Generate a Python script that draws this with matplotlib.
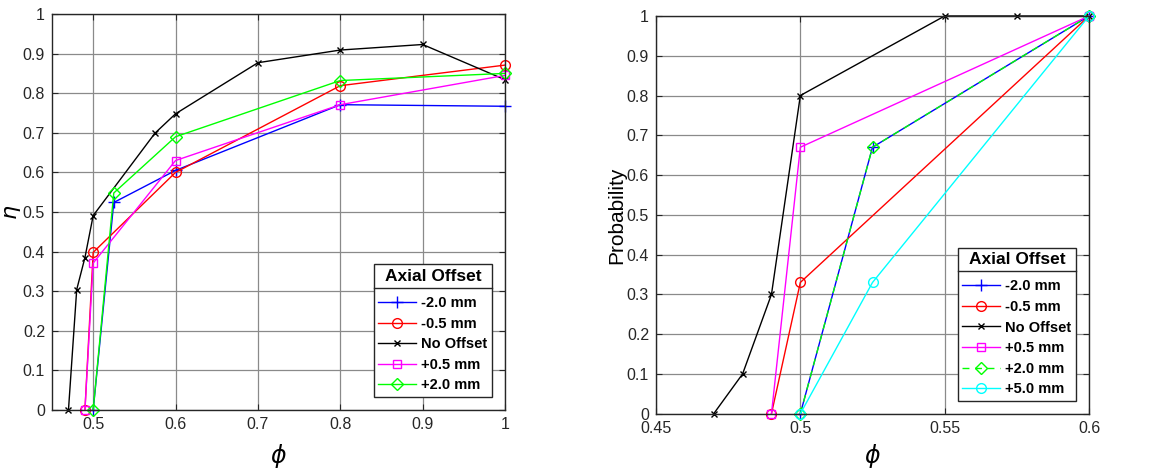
import matplotlib
matplotlib.use("Agg")
import matplotlib.pyplot as plt
from matplotlib.lines import Line2D

plt.rcParams['font.family'] = ['Liberation Sans', 'DejaVu Sans']

# left panel: efficiency eta vs phi
eta_labels = ['-2.0 mm', '-0.5 mm', 'No Offset', '+0.5 mm', '+2.0 mm']
eta_x = [
    [0.5, 0.525, 0.6, 0.8, 1.0],
    [0.49, 0.5, 0.6, 0.8, 1.0],
    [0.47, 0.48, 0.49, 0.5, 0.575, 0.6, 0.7, 0.8, 0.9, 1.0],
    [0.49, 0.5, 0.6, 0.8, 1.0],
    [0.5, 0.525, 0.6, 0.8, 1.0],
]
eta_y = [
    [0.0, 0.524, 0.605, 0.771, 0.767],
    [0.0, 0.398, 0.600, 0.819, 0.871],
    [0.0, 0.304, 0.385, 0.491, 0.699, 0.748, 0.877, 0.909, 0.923, 0.834],
    [0.0, 0.371, 0.630, 0.771, 0.845],
    [0.0, 0.548, 0.690, 0.832, 0.850],
]

# right panel: probability vs phi
prob_labels = ['-2.0 mm', '-0.5 mm', 'No Offset', '+0.5 mm', '+2.0 mm', '+5.0 mm']
prob_x = [
    [0.5, 0.525, 0.6],
    [0.49, 0.5, 0.6],
    [0.47, 0.48, 0.49, 0.5, 0.55, 0.575, 0.6],
    [0.49, 0.5, 0.6],
    [0.5, 0.525, 0.6],
    [0.5, 0.525, 0.6],
]
prob_y = [
    [0.0, 0.67, 1.0],
    [0.0, 0.33, 1.0],
    [0.0, 0.1, 0.3, 0.8, 1.0, 1.0, 1.0],
    [0.0, 0.67, 1.0],
    [0.0, 0.67, 1.0],
    [0.0, 0.33, 1.0],
]

styles = {
    '-2.0 mm': dict(color='#0000ff', marker='+', ls='-', ms=8),
    '-0.5 mm': dict(color='#ff0000', marker='o', ls='-', ms=7, mfc='none'),
    'No Offset': dict(color='#000000', marker='x', ls='-', ms=5),
    '+0.5 mm': dict(color='#ff00ff', marker='s', ls='-', ms=6, mfc='none'),
    '+2.0 mm': dict(color='#00ff00', marker='D', ls='-', ms=6, mfc='none'),
    '+5.0 mm': dict(color='#00ffff', marker='o', ls='-', ms=7, mfc='none'),
}

fig = plt.figure(figsize=(11.71, 4.70), dpi=100)
ax1 = fig.add_axes([0.0444, 0.1277, 0.3869, 0.8425])
ax2 = fig.add_axes([0.5602, 0.1198, 0.3698, 0.8462])

for lab, xs, ys in zip(eta_labels, eta_x, eta_y):
    ax1.plot(xs, ys, lw=1, label=lab, clip_on=False, **styles[lab])

for lab, xs, ys in zip(prob_labels, prob_x, prob_y):
    st = dict(styles[lab])
    if lab == '+2.0 mm':
        st['ls'] = (0, (5, 4))
    ax2.plot(xs, ys, lw=1, label=lab, clip_on=False, **st)

yt = [i / 10 for i in range(11)]
ytl = ['0'] + ['%.1f' % (i / 10) for i in range(1, 10)] + ['1']

ax1.set_xlim(0.45, 1.0)
ax1.set_ylim(0, 1)
ax1.set_xticks([0.5, 0.6, 0.7, 0.8, 0.9, 1.0])
ax1.set_xticklabels(['0.5', '0.6', '0.7', '0.8', '0.9', '1'])
ax1.set_yticks(yt)
ax1.set_yticklabels(ytl)
ax1.set_xlabel(r'$\phi$', fontsize=17)
ax1.set_ylabel(r'$\eta$', fontsize=16)
ax1.yaxis.set_label_coords(-0.064, 0.5)
ax1.xaxis.set_label_coords(0.5, -0.082)

ax2.set_xlim(0.45, 0.6)
ax2.set_ylim(0, 1)
ax2.set_xticks([0.45, 0.5, 0.55, 0.6])
ax2.set_xticklabels(['0.45', '0.5', '0.55', '0.6'])
ax2.set_yticks(yt)
ax2.set_yticklabels(ytl)
ax2.set_xlabel(r'$\phi$', fontsize=17)
ax2.set_ylabel('Probability', fontsize=15)
ax2.yaxis.set_label_coords(-0.069, 0.5)
ax2.xaxis.set_label_coords(0.5, -0.07)

for ax in (ax1, ax2):
    ax.grid(True, color='#8a8a8a', lw=0.9)
    ax.set_axisbelow(True)
    ax.tick_params(direction='in', length=4, labelsize=11.5, colors='#262626',
                   top=True, right=True, pad=5)
    for sp in ax.spines.values():
        sp.set_color('#262626')
        sp.set_linewidth(1.0)

legs = []
for ax in (ax1, ax2):
    leg = ax.legend(loc='lower right', title='Axial Offset', fancybox=False,
                    framealpha=1, edgecolor='#262626', handlelength=2.6,
                    borderaxespad=0.9, borderpad=0.3, labelspacing=0.45,
                    handletextpad=0.35,
                    prop={'weight': 'bold', 'size': 10.5},
                    title_fontproperties={'weight': 'bold', 'size': 12.5})
    leg.get_frame().set_linewidth(1.0)
    leg._legend_box.sep = 9
    legs.append(leg)

# separator line under the legend title, like the MATLAB box
fig.canvas.draw()
inv = fig.transFigure.inverted()
for leg in legs:
    fb = leg.get_frame().get_window_extent()
    tb = leg.get_title().get_window_extent()
    ysep = tb.y0 - 4
    (x0, y0) = inv.transform((fb.x0, ysep))
    (x1, _) = inv.transform((fb.x1, ysep))
    fig.add_artist(Line2D([x0, x1], [y0, y0], color='#262626', lw=1.0))

fig.savefig('out.png', dpi=100)
